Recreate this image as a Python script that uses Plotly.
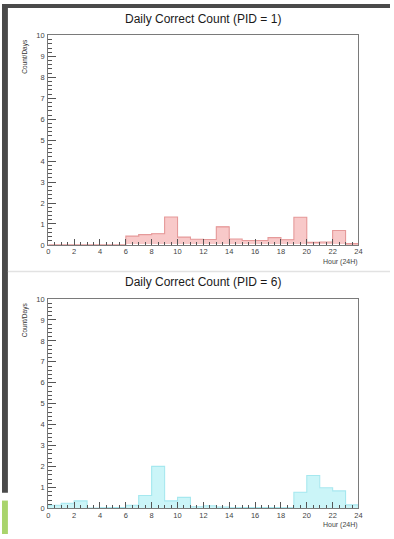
import plotly.graph_objects as go

# Hourly bins (0..24 h)
hour_edges = list(range(25))
hour_centers = [h + 0.5 for h in range(24)]

# Average correct count per day, per hour of day
pid1_counts = [0, 0, 0, 0, 0, 0, 0.42, 0.49, 0.53, 1.33, 0.37, 0.27,
               0.26, 0.86, 0.28, 0.21, 0.21, 0.35, 0.25, 1.32, 0.12, 0.14, 0.69, 0.06]
pid6_counts = [0.15, 0.25, 0.36, 0.02, 0.03, 0.04, 0.15, 0.62, 2.01, 0.36, 0.53, 0.08,
               0.13, 0.07, 0.03, 0.04, 0.04, 0.04, 0.03, 0.77, 1.57, 0.99, 0.84, 0.17]

panels = [
    dict(title="Daily Correct Count (PID = 1)", counts=pid1_counts,
         fill="#f8c9c9", edge="#e59a9a"),
    dict(title="Daily Correct Count (PID = 6)", counts=pid6_counts,
         fill="#cbf5f8", edge="#a6e8ef"),
]

x_ticks = list(range(0, 25, 2))
y_ticks = list(range(0, 11))

W, H = 394, 539
FONT = "Liberation Sans, Arial, Helvetica, sans-serif"

def px_x(v):
    return v / W

def px_y(v):
    return 1 - v / H

# pixel frames (top, bottom) of each pad's plotting area
frames = [(32, 245), (300, 513)]
left_px, right_px = 47, 362

fig = go.Figure()
annotations = []

for i, (p, (top, bot)) in enumerate(zip(panels, frames), start=1):
    xa = "x" if i == 1 else f"x{i}"
    ya = "y" if i == 1 else f"y{i}"

    fig.add_trace(go.Bar(
        x=hour_centers, y=p["counts"], width=1.0,
        marker=dict(color=p["fill"], line=dict(width=0)),
        xaxis=xa, yaxis=ya, showlegend=False, hoverinfo="skip",
    ))
    # step outline of the histogram
    step_x = [hour_edges[0]] + hour_edges
    step_y = [0] + p["counts"] + [p["counts"][-1]]
    fig.add_trace(go.Scatter(
        x=step_x + [hour_edges[-1]], y=step_y + [0],
        mode="lines", line=dict(color=p["edge"], width=1.1, shape="hv"),
        xaxis=xa, yaxis=ya, showlegend=False, hoverinfo="skip",
    ))

    axis_common = dict(showline=True, mirror=True, linecolor="#7a7a7a",
                       linewidth=1.2, showgrid=False, zeroline=False,
                       tickfont=dict(family=FONT, size=7.5, color="#444"),
                       ticks="inside", tickcolor="#555")
    fig.update_layout(**{
        ("xaxis" if i == 1 else f"xaxis{i}"): dict(
            axis_common, domain=[px_x(left_px), px_x(right_px)],
            anchor=ya, range=[0, 24], tickvals=x_ticks, ticklen=6,
            ticklabelstandoff=-1,
            minor=dict(dtick=0.5, tick0=0, ticks="inside", ticklen=3,
                       tickcolor="#555", showgrid=False),
        ),
        ("yaxis" if i == 1 else f"yaxis{i}"): dict(
            axis_common, domain=[px_y(bot), px_y(top)],
            anchor=xa, range=[0, 10], tickvals=y_ticks, ticklen=8,
            ticklabelstandoff=1,
            minor=dict(dtick=0.2, tick0=0, ticks="inside", ticklen=4,
                       tickcolor="#555", showgrid=False),
        ),
    })

    annotations.append(dict(
        text=p["title"], xref="paper", yref="paper",
        x=px_x((left_px + right_px) / 2), y=px_y(top - 17),
        xanchor="center", yanchor="middle", showarrow=False,
        font=dict(family=FONT, size=12, color="#1a1a1a"),
    ))
    annotations.append(dict(
        text="Count/Days", xref="paper", yref="paper",
        x=px_x(23), y=px_y(top + 21), textangle=-90,
        xanchor="center", yanchor="middle", showarrow=False,
        font=dict(family=FONT, size=6.5, color="#333"),
    ))
    annotations.append(dict(
        text="Hour (24H)", xref="paper", yref="paper",
        x=px_x(right_px + 1), y=px_y(bot + 12),
        xanchor="right", yanchor="top", showarrow=False,
        font=dict(family=FONT, size=7, color="#444"),
        borderpad=0,
    ))

shapes = [
    # window chrome: dark strips at top and left, separator between pads
    dict(type="rect", xref="paper", yref="paper", x0=0, x1=1,
         y0=px_y(4), y1=1, fillcolor="#4a4a4a", line=dict(width=0), layer="above"),
    dict(type="rect", xref="paper", yref="paper", x0=0, x1=px_x(6),
         y0=px_y(497), y1=1, fillcolor="#4a4a4a", line=dict(width=0), layer="above"),
    dict(type="rect", xref="paper", yref="paper", x0=0, x1=px_x(6),
         y0=0, y1=px_y(505), fillcolor="#a9d46c", line=dict(width=0), layer="above"),
    dict(type="line", xref="paper", yref="paper", x0=px_x(6), x1=1,
         y0=px_y(272), y1=px_y(272), line=dict(color="#e2e2e2", width=1.5)),
]

fig.update_layout(
    width=W, height=H, margin=dict(l=0, r=0, t=0, b=0),
    paper_bgcolor="white", plot_bgcolor="white",
    bargap=0, annotations=annotations, shapes=shapes,
)

fig.write_html("out.html")
